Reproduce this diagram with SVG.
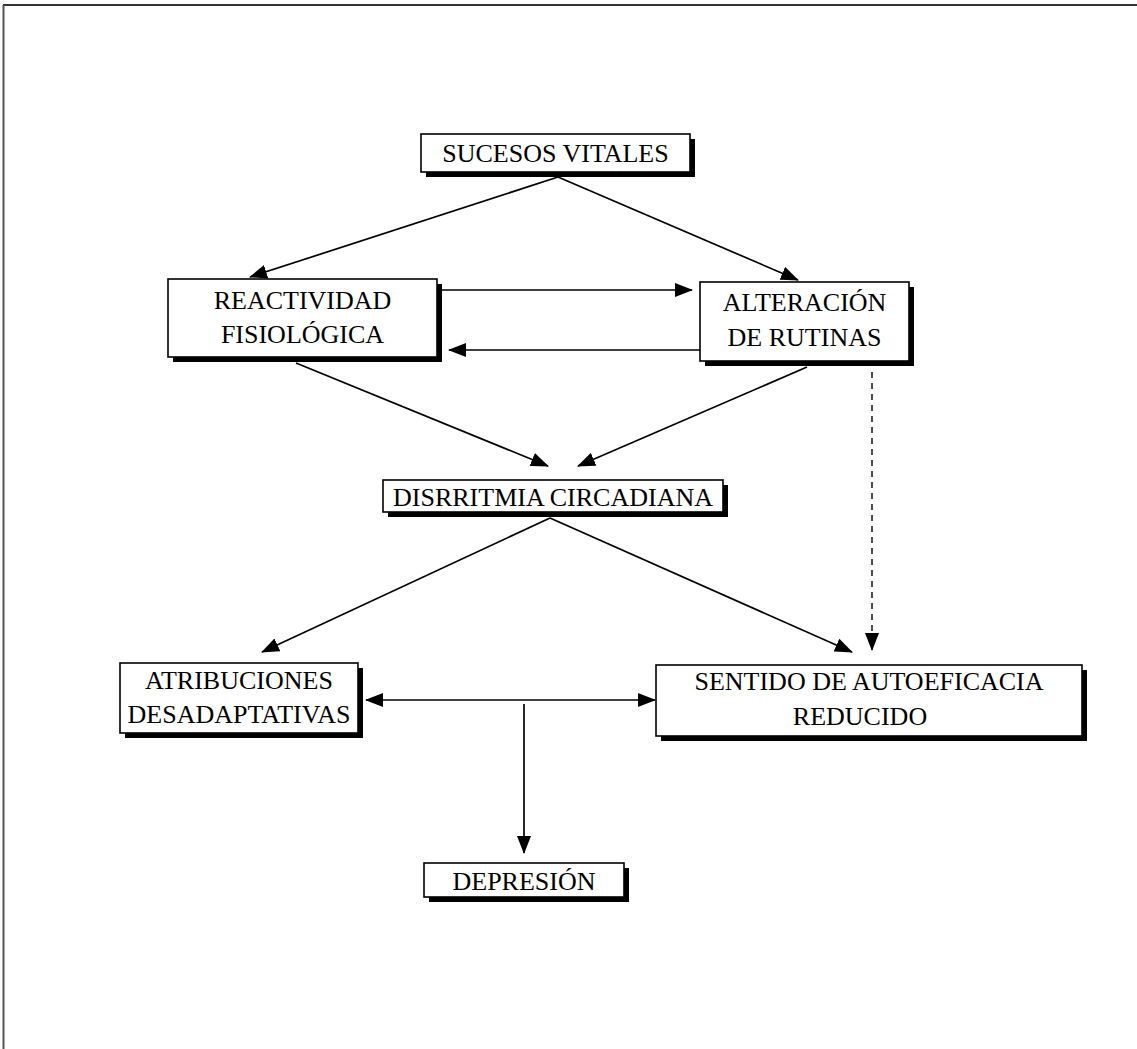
<svg xmlns="http://www.w3.org/2000/svg" width="1137" height="1049" viewBox="0 0 1137 1049">
<defs>
<marker id="ah" markerWidth="18" markerHeight="14" refX="17" refY="7" orient="auto" markerUnits="userSpaceOnUse">
<path d="M0,0 L18,7 L0,14 z" fill="#000"/>
</marker>
<marker id="ahs" markerWidth="18" markerHeight="14" refX="1" refY="7" orient="auto" markerUnits="userSpaceOnUse">
<path d="M18,0 L0,7 L18,14 z" fill="#000"/>
</marker>
</defs>
<style>
.sh{fill:#000}
.bx{fill:#fff;stroke:#000;stroke-width:1.6}
.t{font-family:"Liberation Serif","Times New Roman",serif;font-size:26px;fill:#000;text-anchor:middle}
.c{stroke:#000;stroke-width:1.7;fill:none}
.d{stroke:#000;stroke-width:1.4;fill:none;stroke-dasharray:6,5}
</style>
<rect width="1137" height="1049" fill="#fff"/>
<g id="frame">
<line x1="3" y1="5" x2="1137" y2="5" stroke="#333" stroke-width="2"/>
<line x1="3.5" y1="5" x2="3.5" y2="1049" stroke="#555" stroke-width="2"/>
</g>
<g id="connectors">
<line class="c" x1="558" y1="177" x2="250" y2="277" marker-end="url(#ah)"/>
<line class="c" x1="558" y1="177" x2="798" y2="280" marker-end="url(#ah)"/>
<line class="c" x1="442" y1="290" x2="692" y2="290" marker-end="url(#ah)"/>
<line class="c" x1="700" y1="350" x2="449" y2="350" marker-end="url(#ah)"/>
<line class="c" x1="296" y1="363" x2="548" y2="466" marker-end="url(#ah)"/>
<line class="c" x1="807" y1="367" x2="578" y2="466" marker-end="url(#ah)"/>
<line class="c" x1="550" y1="518" x2="262" y2="652" marker-end="url(#ah)"/>
<line class="c" x1="550" y1="518" x2="852" y2="652" marker-end="url(#ah)"/>
<line class="d" x1="872" y1="372" x2="872" y2="650" marker-end="url(#ah)"/>
<line class="c" x1="366" y1="700" x2="655" y2="700" marker-start="url(#ahs)" marker-end="url(#ah)"/>
<line class="c" x1="524" y1="704" x2="524" y2="853" marker-end="url(#ah)"/>
</g>
<g id="sucesos">
<rect class="sh" x="426" y="139" width="269" height="38"/>
<rect class="bx" x="421" y="134" width="269" height="38"/>
<text class="t" x="555.5" y="162">SUCESOS VITALES</text>
</g>
<g id="reactividad">
<rect class="sh" x="173" y="284" width="269" height="78"/>
<rect class="bx" x="168" y="279" width="269" height="78"/>
<text class="t" x="302.5" y="309">REACTIVIDAD</text>
<text class="t" x="302.5" y="343">FISIOLÓGICA</text>
</g>
<g id="alteracion">
<rect class="sh" x="705" y="287" width="209" height="79"/>
<rect class="bx" x="700" y="282" width="209" height="79"/>
<text class="t" x="804.5" y="311">ALTERACIÓN</text>
<text class="t" x="804.5" y="346">DE RUTINAS</text>
</g>
<g id="disrritmia">
<rect class="sh" x="388" y="485" width="340" height="32"/>
<rect class="bx" x="383" y="480" width="340" height="32"/>
<text class="t" x="553" y="506">DISRRITMIA CIRCADIANA</text>
</g>
<g id="atribuciones">
<rect class="sh" x="125" y="668" width="238" height="70"/>
<rect class="bx" x="120" y="663" width="238" height="70"/>
<text class="t" x="239" y="689">ATRIBUCIONES</text>
<text class="t" x="239" y="723">DESADAPTATIVAS</text>
</g>
<g id="sentido">
<rect class="sh" x="661" y="670" width="426" height="71"/>
<rect class="bx" x="656" y="665" width="426" height="71"/>
<text class="t" x="869" y="690">SENTIDO DE AUTOEFICACIA</text>
<text class="t" x="860" y="725">REDUCIDO</text>
</g>
<g id="depresion">
<rect class="sh" x="429" y="868" width="200" height="34"/>
<rect class="bx" x="424" y="863" width="200" height="34"/>
<text class="t" x="524" y="890">DEPRESIÓN</text>
</g>
</svg>
